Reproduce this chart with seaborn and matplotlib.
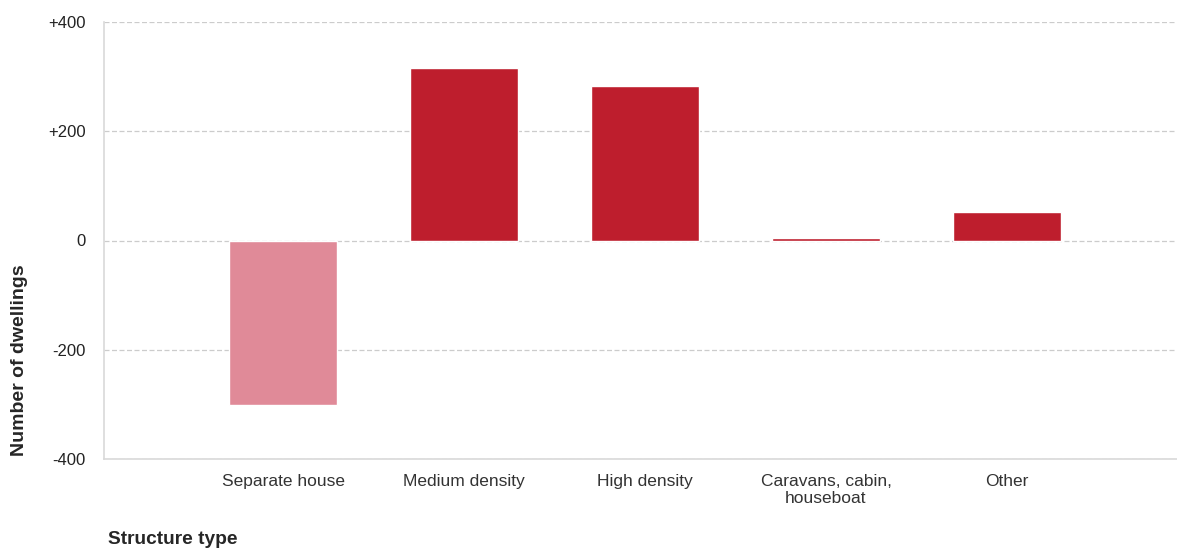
import matplotlib
matplotlib.use("Agg")
import matplotlib.pyplot as plt
import seaborn as sns
import pandas as pd

# data
categories = ["Separate house", "Medium density", "High density",
              "Caravans, cabin,\nhouseboat", "Other"]
changes = [-301, 315, 282, 4, 52]
bar_colors = ["#E08A98", "#BE1E2D", "#BE1E2D", "#BE1E2D", "#BE1E2D"]
y_ticks = [-400, -200, 0, 200, 400]
y_tick_labels = ["-400", "-200", "0", "+200", "+400"]

df = pd.DataFrame({"structure": categories, "dwellings": changes})

sns.set_style("white")
plt.rcParams["font.family"] = ["Liberation Sans", "DejaVu Sans"]

fig = plt.figure(figsize=(11.77, 5.5), dpi=100)
ax = fig.add_axes([104 / 1177, 1 - 459 / 550, 1 - 104 / 1177, (459 - 22) / 550])

sns.barplot(data=df, x="structure", y="dwellings", hue="structure",
            palette=bar_colors, legend=False, width=0.6, saturation=1, ax=ax)

ax.set_xlim(-0.99, 4.94)
ax.set_ylim(-400, 400)
ax.set_yticks(y_ticks)
ax.set_yticklabels(y_tick_labels)

ax.grid(axis="y", color="#cccccc", linestyle=(0, (4, 2)), linewidth=0.9)
ax.set_axisbelow(True)
for s in ["top", "right"]:
    ax.spines[s].set_visible(False)
for s in ["left", "bottom"]:
    ax.spines[s].set_color("#d9d9d9")
    ax.spines[s].set_linewidth(1.2)

ax.tick_params(axis="y", length=10, color="#d9d9d9", labelsize=12, pad=3,
               labelcolor="#222222")
ax.tick_params(axis="x", length=4, color="#d9d9d9", labelsize=12.5, pad=7,
               labelcolor="#333333", direction="out")
for lbl in ax.get_xticklabels():
    lbl.set_linespacing(1.15)

ax.set_xlabel("")
ax.set_ylabel("Number of dwellings", fontsize=14, fontweight="bold")
ax.yaxis.set_label_coords(-0.071, 0.227)
fig.text(108 / 1177, 1 - 540 / 550, "Structure type", fontsize=13.8,
         fontweight="bold", ha="left", va="center")

fig.savefig("out.png", dpi=100)
